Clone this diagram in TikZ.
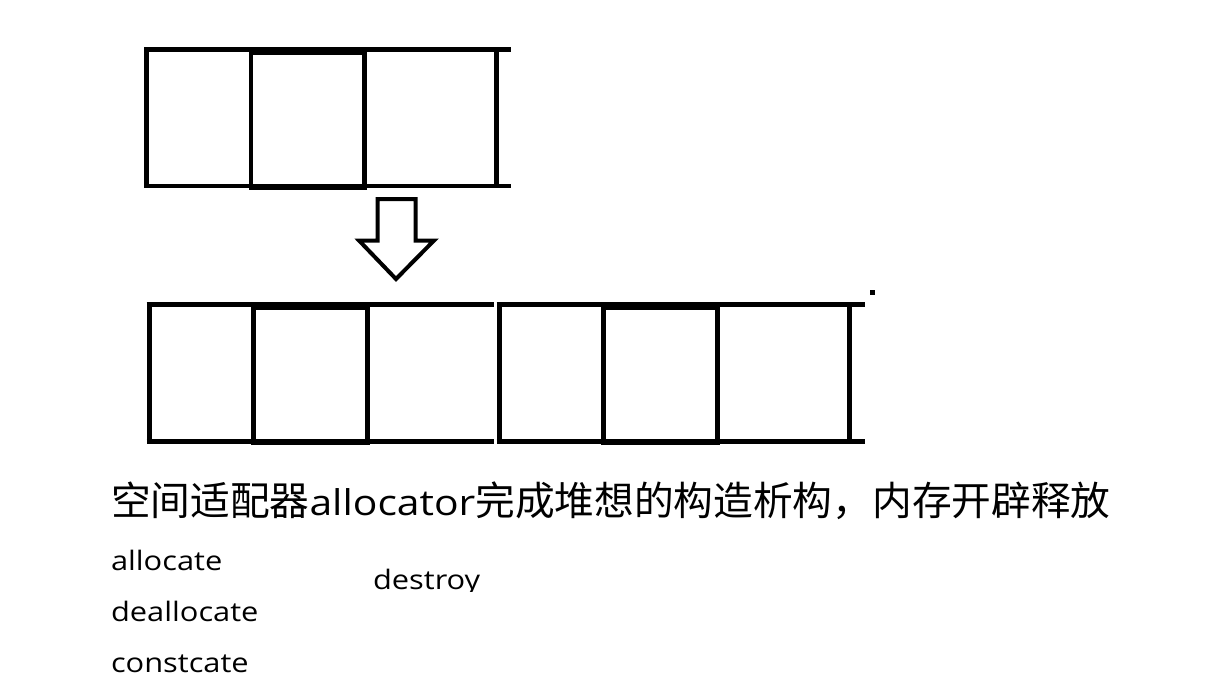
\documentclass[tikz,border=0pt]{standalone}
\usepackage{fontspec}
\setmainfont[FakeStretch=1.15]{Open Sans}
\newfontfamily\cjk{Noto Sans CJK SC}
\tikzset{
  cell/.style={line width=4.6pt, line cap=butt},
  arrowshape/.style={line width=4pt, line join=miter, fill=white},
  lbl/.style={anchor=base west, inner sep=0pt, outer sep=0pt},
}
\begin{document}
\begin{tikzpicture}[x=1pt,y=-1pt]
\useasboundingbox[fill=white] (0,0) rectangle (1229,694);
% top row
\draw[cell] (144,49.5) -- (511,49.5);
\draw[cell] (144,186) -- (511,186);
\draw[cell] (146.5,49.5) -- (146.5,186);
\draw[cell] (496.7,49.5) -- (496.7,186);
\draw[cell] (250.8,52.5) rectangle (364.5,187.5);
% arrow
\draw[arrowshape] (377.5,199) -- (415.7,199) -- (415.7,240.5) -- (434,240.5) -- (396,279) -- (359,240.5) -- (377.5,240.5) -- cycle;
% bottom row, first half
\draw[cell] (146.7,304.5) -- (494,304.5);
\draw[cell] (146.7,441.3) -- (494,441.3);
\draw[cell] (149.3,304.5) -- (149.3,441.3);
\draw[cell] (253.5,308) rectangle (367.5,442.5);
% bottom row, second half
\draw[cell] (496.7,304.5) -- (865,304.5);
\draw[cell] (496.7,441.3) -- (865,441.3);
\draw[cell] (499.3,304.5) -- (499.3,441.3);
\draw[cell] (849.3,304.5) -- (849.3,441.3);
\draw[cell] (603.5,308) rectangle (717.5,442.5);
\fill (870,289.5) rectangle (875,295);
% texts
\node[lbl] (title) at (111,515) {{\cjk\fontsize{39.7}{44}\selectfont 空间适配器}{\fontsize{35.5}{40}\selectfont allocator}{\cjk\fontsize{39.7}{44}\selectfont 完成堆想的构造析构，内存开辟释放}};
\node[lbl] (alloc) at (111,570.7) {\fontsize{26.8}{30}\selectfont allocate};
\node[lbl] (dealloc) at (111,621.7) {\fontsize{26.8}{30}\selectfont deallocate};
\node[lbl] (constr) at (111,672.7) {\fontsize{26.8}{30}\selectfont constcate};
\begin{scope}
\clip (360,540) rectangle (520,591);
\node[lbl] (destroy) at (373,589.3) {\fontsize{26.8}{30}\selectfont destroy};
\end{scope}
\end{tikzpicture}
\end{document}
